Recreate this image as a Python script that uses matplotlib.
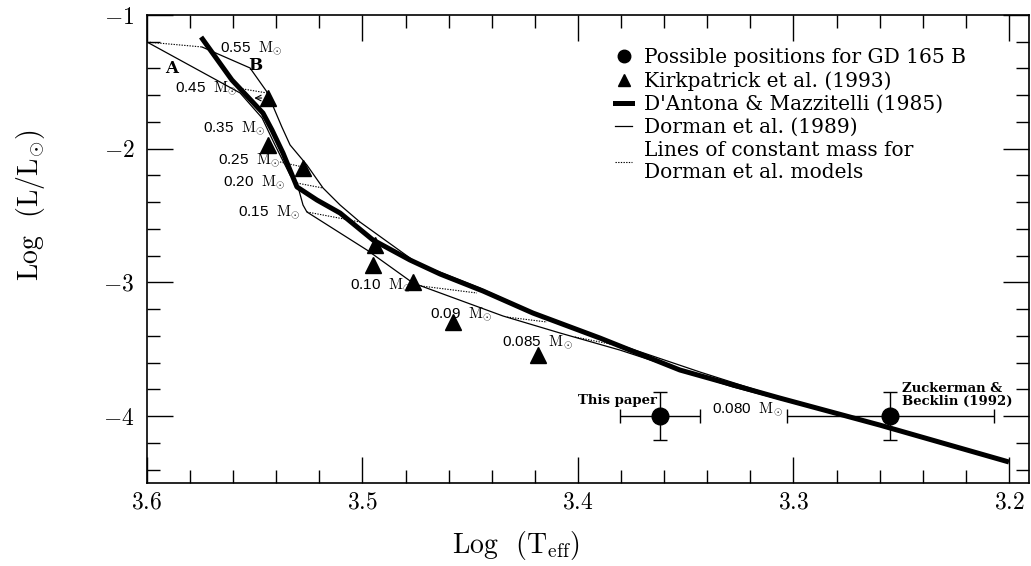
import matplotlib
matplotlib.use("Agg")
import matplotlib.pyplot as plt
from matplotlib.ticker import MultipleLocator
from matplotlib.lines import Line2D

plt.rcParams['font.family'] = 'serif'
plt.rcParams['font.serif'] = ['cmr10', 'DejaVu Serif']
plt.rcParams['mathtext.fontset'] = 'cm'
plt.rcParams['axes.formatter.use_mathtext'] = True
plt.rcParams['axes.unicode_minus'] = True

# ---------------- data ----------------
# D'Antona & Mazzitelli (1985) track
dm_logt = [3.5749, 3.5606, 3.5462, 3.5420, 3.5369, 3.5304, 3.5211, 3.5104, 3.4951,
           3.4780, 3.4640, 3.4441, 3.4209, 3.3898, 3.3527, 3.3063, 3.2599, 3.2000]
dm_logl = [-1.165, -1.486, -1.733, -1.860, -2.032, -2.286, -2.384, -2.481, -2.683,
           -2.832, -2.937, -3.064, -3.229, -3.416, -3.655, -3.865, -4.067, -4.343]

# Dorman et al. (1989) track A
a_logt = [3.6000, 3.5568, 3.5466, 3.5406, 3.5336, 3.5304, 3.5276, 3.5258, 3.4979,
          3.4766, 3.4348, 3.4084, 3.3805, 3.3281, 3.2910]
a_logl = [-1.202, -1.583, -1.770, -1.972, -2.197, -2.257, -2.421, -2.473, -2.758,
          -3.004, -3.251, -3.378, -3.506, -3.782, -3.939]

# Dorman et al. (1989) track B
b_logt = [3.5745, 3.5522, 3.5443, 3.5374, 3.5336, 3.5258, 3.5183, 3.5104, 3.5012,
          3.4747, 3.4455, 3.4130, 3.3805, 3.3434, 3.2910]
b_logl = [-1.239, -1.396, -1.576, -1.838, -1.972, -2.122, -2.294, -2.421, -2.548,
          -2.855, -3.042, -3.281, -3.468, -3.670, -3.939]

# Lines of constant mass (A end -> B end)
cm_mass = ['0.55', '0.45', '0.25', '0.20', '0.15', '0.10', '0.09', '0.085']
cm_a_logt = [3.6000, 3.5582, 3.5383, 3.5304, 3.5258, 3.4766, 3.4329, 3.4014]
cm_a_logl = [-1.202, -1.546, -2.099, -2.257, -2.473, -3.019, -3.259, -3.408]
cm_b_logt = [3.5745, 3.5443, 3.5276, 3.5183, 3.5012, 3.4469, 3.4144, 3.3782]
cm_b_logl = [-1.239, -1.583, -2.137, -2.294, -2.548, -3.079, -3.296, -3.483]

# Mass labels
lab_mass = ['0.55', '0.45', '0.35', '0.25', '0.20', '0.15', '0.10', '0.09', '0.085', '0.080']
lab_logt = [3.5661, 3.5870, 3.5740, 3.5670, 3.5647, 3.5578, 3.5058, 3.4687, 3.4353, 3.3378]
lab_logl = [-1.247, -1.546, -1.845, -2.085, -2.249, -2.474, -3.019, -3.236, -3.446, -3.947]

# Kirkpatrick et al. (1993)
kirk_logt = [3.5439, 3.5439, 3.5276, 3.4942, 3.4951, 3.4766, 3.4580, 3.4186]
kirk_logl = [-1.621, -1.972, -2.144, -2.720, -2.870, -2.997, -3.296, -3.543]

# Possible positions for GD 165 B
gd_logt = [3.3620, 3.2550]
gd_logl = [-4.0, -4.0]
gd_terr = [0.0186, 0.048]
gd_lerr = [0.18, 0.18]

# ---------------- figure ----------------
fig = plt.figure(figsize=(10.31, 5.66), dpi=100)
ax = fig.add_axes([147/1031, 1-483/566, (1029-147)/1031, (483-15)/566])

ax.plot(a_logt, a_logl, color='black', lw=0.9, zorder=2)
ax.plot(b_logt, b_logl, color='black', lw=0.9, zorder=2)
for ta, la, tb, lb in zip(cm_a_logt, cm_a_logl, cm_b_logt, cm_b_logl):
    ax.plot([ta, tb], [la, lb], color='black', lw=0.8, ls=(0, (1.2, 1.2)), zorder=2)
ax.plot(dm_logt, dm_logl, color='black', lw=3.6, solid_capstyle='butt', zorder=3)

ax.plot(kirk_logt, kirk_logl, ls='none', marker='^', ms=11, color='black', zorder=4)
ax.errorbar(gd_logt, gd_logl, xerr=gd_terr, yerr=gd_lerr, fmt='o', ms=12,
            color='black', ecolor='black', elinewidth=1.0, capsize=5, capthick=1.0, zorder=5)

ax.annotate('', xy=(3.5515, kirk_logl[0]), xytext=(3.5455, kirk_logl[0]),
            arrowprops=dict(arrowstyle='->', lw=0.8, color='black'))

for m, t, l in zip(lab_mass, lab_logt, lab_logl):
    ax.text(t, l, m + r'  $\mathrm{M}_{\odot}$', fontsize=11, family='Liberation Sans',
            ha='left', va='center')

ax.text(3.5884, -1.398, 'A', fontsize=12, family='DejaVu Serif', fontweight='bold',
        ha='center', va='center')
ax.text(3.5499, -1.375, 'B', fontsize=12, family='DejaVu Serif', fontweight='bold',
        ha='center', va='center')
ax.text(3.3633, -3.88, 'This paper', fontsize=9.5, family='DejaVu Serif', fontweight='bold',
        ha='right', va='center')
ax.text(3.2497, -3.845, 'Zuckerman &\nBecklin (1992)', fontsize=9.5, family='DejaVu Serif',
        fontweight='bold', ha='left', va='center', linespacing=1.0)

ax.set_xlim(3.6, 3.1907)
ax.set_ylim(-4.5, -1.0)
ax.xaxis.set_major_locator(MultipleLocator(0.1))
ax.xaxis.set_minor_locator(MultipleLocator(0.02))
ax.yaxis.set_major_locator(MultipleLocator(1.0))
ax.yaxis.set_minor_locator(MultipleLocator(0.2))
ax.tick_params(which='both', direction='in', top=True, right=True, width=1.0, labelsize=17)
ax.tick_params(which='major', length=19)
ax.tick_params(axis='x', which='major', pad=6)
ax.tick_params(axis='y', which='major', pad=9)
ax.tick_params(which='minor', length=9.5)
for s in ax.spines.values():
    s.set_linewidth(1.2)

ax.set_xlabel(r'Log  (T$_{\rm eff}$)', fontsize=20)
ax.set_ylabel(r'Log  (L/L$_{\odot}$)', fontsize=20)
ax.xaxis.set_label_coords(0.418, -0.098)
ax.yaxis.set_label_coords(-0.113, 0.594)

handles = [
    Line2D([], [], ls='none', marker='o', ms=9, color='black'),
    Line2D([], [], ls='none', marker='^', ms=8, color='black'),
    Line2D([], [], color='black', lw=3.6),
    Line2D([], [], color='black', lw=0.9),
    Line2D([], [], color='black', lw=0.8, ls=(0, (1.2, 1.2))),
]
labels = ['Possible positions for GD 165 B', 'Kirkpatrick et al. (1993)',
          "D'Antona & Mazzitelli (1985)", 'Dorman et al. (1989)',
          'Lines of constant mass for\nDorman et al. models']
ax.legend(handles, labels, loc='upper left', bbox_to_anchor=(0.531, 0.929), frameon=False,
          prop={'family': 'DejaVu Serif', 'size': 14.5}, handlelength=0.85, handletextpad=0.55,
          labelspacing=0.2, borderaxespad=0.0, borderpad=0.0)

fig.savefig('out.png', dpi=100)
